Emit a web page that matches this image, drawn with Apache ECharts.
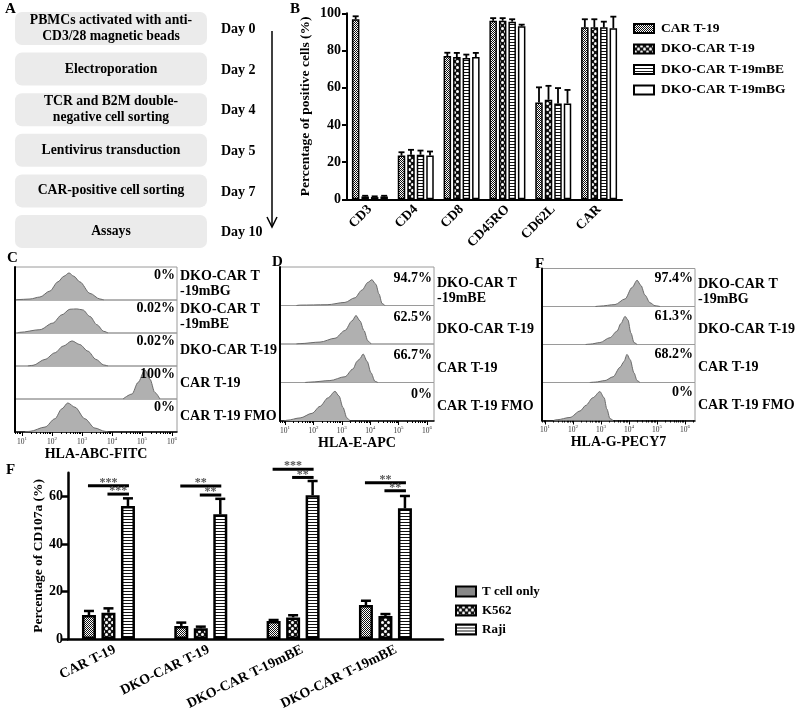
<!DOCTYPE html>
<html><head><meta charset="utf-8">
<script src="https://cdn.jsdelivr.net/npm/echarts@6/dist/echarts.min.js"></script>
<style>html,body{margin:0;padding:0;background:#fff}#c{width:800px;height:720px}</style>
</head><body><div id="c"></div>
<script>
// ---------- Panel A (workflow) ----------
const stepTexts = [['PBMCs activated with anti-','CD3/28 magnetic beads'],['Electroporation'],['TCR and B2M double-','negative cell sorting'],['Lentivirus transduction'],['CAR-positive cell sorting'],['Assays']];
const stepDays = ['Day 0','Day 2','Day 4','Day 5','Day 7','Day 10'];

// ---------- Panel B (phenotype bars) ----------
const markerCats = ['CD3','CD4','CD8','CD45RO','CD62L','CAR'];
const groupNames = ['CAR T-19','DKO-CAR T-19','DKO-CAR T-19mBE','DKO-CAR T-19mBG'];
const carT19     = [96.8, 23.5, 77.0, 96.0, 52.0, 92.5];
const carT19Err  = [1.6, 1.8, 1.8, 1.4, 8.2, 4.3];
const dkoT19     = [1.5, 24.0, 76.5, 96.0, 53.5, 92.5];
const dkoT19Err  = [0.4, 2.6, 2.2, 1.4, 7.5, 4.3];
const dkoMBE     = [1.2, 24.0, 76.0, 95.5, 51.5, 92.5];
const dkoMBEErr  = [0.4, 2.2, 1.8, 1.3, 8.3, 3.0];
const dkoMBG     = [1.5, 23.5, 76.5, 93.0, 51.5, 92.0];
const dkoMBGErr  = [0.4, 2.2, 2.2, 0.9, 7.3, 6.2];
const percentTicks = [0, 20, 40, 60, 80, 100];

// ---------- Histograms (x = log10 intensity, y = relative count) ----------
const logTicks = [1, 2, 3, 4, 5, 6];
const hlaAbcRows = ['DKO-CAR T\n-19mBG','DKO-CAR T\n-19mBE','DKO-CAR T-19','CAR T-19','CAR T-19 FMO'];
const hlaAbcPct  = ['0%','0.02%','0.02%','100%','0%'];
const hlaAbcMBG = [[0.8,0],[0.83,0.01],[1.27,0.03],[1.6,0.09],[1.93,0.27],[2.2,0.55],[2.4,0.72],[2.57,0.82],[2.73,0.72],[2.93,0.55],[3.27,0.2],[3.6,0.03],[3.73,0]];
const hlaAbcMBE = [[0.85,0],[0.93,0.02],[1.6,0.1],[2.03,0.3],[2.33,0.55],[2.6,0.72],[2.83,0.73],[3.03,0.7],[3.27,0.5],[3.5,0.25],[3.73,0.05],[3.87,0]];
const hlaAbcDko = [[1.2,0],[1.37,0.02],[1.77,0.2],[2.1,0.4],[2.37,0.6],[2.67,0.76],[2.93,0.65],[3.2,0.45],[3.47,0.2],[3.73,0.03],[3.87,0]];
const hlaAbcCar = [[4.37,0],[4.67,0.15],[4.87,0.5],[5.1,0.88],[5.27,0.6],[5.43,0.2],[5.6,0]];
const hlaAbcFmo = [[1.1,0],[1.27,0.02],[1.77,0.15],[2.1,0.4],[2.33,0.7],[2.53,0.88],[2.77,0.75],[3.1,0.4],[3.43,0.12],[3.77,0.02],[3.87,0]];

const hlaERows = ['DKO-CAR T\n-19mBE','DKO-CAR T-19','CAR T-19','CAR T-19 FMO'];
const hlaEPct  = ['94.7%','62.5%','66.7%','0%'];
const hlaEMBE = [[1.4,0],[1.53,0.01],[2.48,0.02],[3.11,0.08],[3.46,0.2],[3.71,0.4],[3.92,0.6],[4.06,0.67],[4.2,0.55],[4.31,0.3],[4.42,0.05],[4.52,0]];
const hlaEDko = [[1.4,0],[1.53,0.01],[2.23,0.05],[2.76,0.15],[3.11,0.35],[3.36,0.6],[3.5,0.74],[3.64,0.6],[3.78,0.35],[3.92,0.08],[4.03,0]];
const hlaECar = [[1.7,0],[1.88,0.01],[2.58,0.05],[3.11,0.15],[3.39,0.35],[3.54,0.55],[3.64,0.62],[3.75,0.74],[3.89,0.55],[4.03,0.25],[4.17,0.03],[4.27,0]];
const hlaEFmo = [[0.95,0],[1.07,0.02],[1.53,0.08],[1.95,0.2],[2.23,0.38],[2.51,0.6],[2.76,0.77],[2.9,0.65],[3.04,0.35],[3.18,0.08],[3.29,0]];

const hlaGRows = ['DKO-CAR T\n-19mBG','DKO-CAR T-19','CAR T-19','CAR T-19 FMO'];
const hlaGPct  = ['97.4%','61.3%','68.2%','0%'];
const hlaGMBG = [[2.8,0],[2.96,0.01],[3.5,0.05],[3.86,0.2],[4.11,0.5],[4.29,0.69],[4.43,0.55],[4.57,0.3],[4.75,0.1],[4.93,0.02],[5.11,0]];
const hlaGDko = [[2.45,0],[2.61,0.01],[2.96,0.05],[3.32,0.18],[3.57,0.35],[3.71,0.55],[3.86,0.74],[3.96,0.65],[4.07,0.3],[4.18,0.05],[4.29,0]];
const hlaGCar = [[2.6,0],[2.79,0.01],[3.14,0.05],[3.43,0.15],[3.68,0.4],[3.82,0.55],[3.93,0.74],[4.04,0.6],[4.18,0.25],[4.29,0.05],[4.39,0]];
const hlaGFmo = [[1.3,0],[1.43,0.02],[1.89,0.08],[2.25,0.25],[2.46,0.4],[2.71,0.6],[2.96,0.76],[3.11,0.6],[3.21,0.3],[3.32,0.05],[3.43,0]];

// ---------- Panel F (CD107a) ----------
const cd107Cats = ['CAR T-19','DKO-CAR T-19','DKO-CAR T-19mBE','DKO-CAR T-19mBE'];
const targetNames = ['T cell only','K562','Raji'];
const tCellOnly    = [10.1, 5.5, 7.6, 14.3];
const tCellOnlyErr = [1.7, 1.4, 0.4, 1.8];
const k562         = [11.1, 4.5, 9.1, 9.7];
const k562Err      = [1.8, 0.7, 0.9, 0.8];
const raji         = [56.0, 52.5, 60.5, 55.0];
const rajiErr      = [3.2, 6.5, 6.0, 5.2];
const cd107Ticks   = [0, 20, 40, 60];
// [category, y value, from bar, to bar]
const sigBrackets = [[0,64.5,0,2],[0,61.0,1,2],[1,64.4,0,2],[1,60.6,1,2],[2,71.5,0,2],[2,68.0,1,2],[3,65.8,0,2],[3,62.4,1,2]];
const sigLabels   = ['***','***','**','**','***','**','**','**'];

// ================= build =================
const FONT = '"Liberation Serif", "Times New Roman", serif';
const grids = [], xAxes = [], yAxes = [], series = [], graphics = [];

function txt(x, y, text, size, align, valign, extra) {
  graphics.push({type:'text', x, y, silent:true, z:50,
    style: Object.assign({text, fontSize:size, fontFamily:FONT, fontWeight:'bold', fill:'#000',
      textAlign:align || 'left', textVerticalAlign:valign || 'middle', lineHeight:size + 1}, extra || {})});
}

function makePattern(kind) {
  const c = document.createElement('canvas');
  let ctx;
  if (kind === 'fine') {
    c.width = 2; c.height = 2; ctx = c.getContext('2d');
    ctx.fillStyle = '#fff'; ctx.fillRect(0,0,2,2);
    ctx.fillStyle = '#111'; ctx.fillRect(0,0,1,1); ctx.fillRect(1,1,1,1);
  } else if (kind === 'coarse') {
    c.width = 6; c.height = 6; ctx = c.getContext('2d');
    ctx.fillStyle = '#111'; ctx.fillRect(0,0,6,6);
    ctx.fillStyle = '#fff';
    ctx.beginPath(); ctx.arc(1.5,1.5,1.5,0,Math.PI*2); ctx.fill();
    ctx.beginPath(); ctx.arc(4.5,4.5,1.5,0,Math.PI*2); ctx.fill();
  } else if (kind === 'stripes') {
    c.width = 2; c.height = 3; ctx = c.getContext('2d');
    ctx.fillStyle = '#fff'; ctx.fillRect(0,0,2,3);
    ctx.fillStyle = '#111'; ctx.fillRect(0,0,2,1);
  } else {
    c.width = 2; c.height = 2; ctx = c.getContext('2d');
    ctx.fillStyle = '#fff'; ctx.fillRect(0,0,2,2);
  }
  return {image: c, repeat: 'repeat'};
}
const patterns = [makePattern('fine'), makePattern('coarse'), makePattern('stripes'), makePattern('white')];

// ---- Panel A graphics
txt(5, 9, 'A', 15);
stepTexts.forEach((lines, i) => {
  const top = 12 + i * 40.6, h = 33;
  graphics.push({type:'rect', silent:true, z:1, shape:{x:15, y:top, width:192, height:h, r:7}, style:{fill:'#ebebeb'}});
  txt(111, top + h/2, lines.join('\n'), 13.7, 'center', 'middle', {lineHeight:16});
  txt(221, top + h/2 + 1, stepDays[i], 14, 'left', 'middle');
});
graphics.push({type:'line', silent:true, shape:{x1:272, y1:31, x2:272, y2:226}, style:{stroke:'#000', lineWidth:1.5}});
graphics.push({type:'polyline', silent:true, shape:{points:[[267,217],[272,227],[277,217]]}, style:{stroke:'#000', lineWidth:1.5, fill:null}});

// ---- Panel B
const bGrid = grids.length;
grids.push({left:347, top:13.3, width:275, height:186});
const bX = xAxes.length;
xAxes.push({type:'category', gridIndex:bGrid, data:markerCats,
  axisLine:{lineStyle:{color:'#000', width:2}},
  axisTick:{alignWithLabel:true, length:5, lineStyle:{color:'#000', width:2}},
  axisLabel:{rotate:45, fontSize:13.5, fontWeight:'bold', fontFamily:FONT, color:'#000', margin:8}});
const bY = yAxes.length;
yAxes.push({type:'value', gridIndex:bGrid, min:0, max:100, interval:20,
  axisLine:{show:true, lineStyle:{color:'#000', width:2}},
  axisTick:{show:true, length:5, lineStyle:{color:'#000', width:2}},
  axisLabel:{fontSize:14, fontWeight:'bold', fontFamily:FONT, color:'#000', margin:6, customValues:percentTicks},
  splitLine:{show:false},
  name:'Percentage of positive cells (%)', nameLocation:'middle', nameGap:34,
  nameTextStyle:{fontSize:13.5, fontWeight:'bold', fontFamily:FONT, color:'#000'}});

function errRender(idx, n, bw, gap, capW, lw) {
  return function (params, api) {
    const c = api.value(0), v = api.value(1), e = api.value(2);
    const b = api.coord([c, v]), t = api.coord([c, v + e]);
    const x = b[0] + (idx - (n - 1) / 2) * (bw + gap);
    return {type:'group', children:[
      {type:'line', shape:{x1:x, y1:b[1], x2:x, y2:t[1]}, style:{stroke:'#000', lineWidth:lw}},
      {type:'line', shape:{x1:x - capW/2, y1:t[1], x2:x + capW/2, y2:t[1]}, style:{stroke:'#000', lineWidth:lw}}
    ]};
  };
}

const bVals = [carT19, dkoT19, dkoMBE, dkoMBG];
const bErrs = [carT19Err, dkoT19Err, dkoMBEErr, dkoMBGErr];
const bBW = 7.5, bGap = 2;
groupNames.forEach((name, i) => {
  series.push({type:'bar', name, xAxisIndex:bX, yAxisIndex:bY, data:bVals[i],
    barWidth:bBW, barGap:(bGap / bBW * 100) + '%', silent:true,
    itemStyle:{color:patterns[i], borderColor:'#000', borderWidth:1.5}});
});
groupNames.forEach((name, i) => {
  series.push({type:'custom', name:'err ' + name, xAxisIndex:bX, yAxisIndex:bY, silent:true, z:5,
    renderItem: errRender(i, 4, bBW, bGap, 6, 1.8),
    data: bVals[i].map((v, k) => [k, v, bErrs[i][k]])});
});

// ---- Histogram panels
const histPanels = [
  {left:15, top:267, width:162, rowH:33, min:0.77, max:6.17, title:'HLA-ABC-FITC', nameGap:15,
   rows:hlaAbcRows, pcts:hlaAbcPct, data:[hlaAbcMBG, hlaAbcMBE, hlaAbcDko, hlaAbcCar, hlaAbcFmo], pctDy:8, nameDy:17},
  {left:280, top:267, width:154, rowH:38.5, min:0.82, max:6.25, title:'HLA-E-APC', nameGap:13,
   rows:hlaERows, pcts:hlaEPct, data:[hlaEMBE, hlaEDko, hlaECar, hlaEFmo], pctDy:11.5, nameDy:24},
  {left:542, top:268.5, width:153, rowH:38, min:0.89, max:6.36, title:'HLA-G-PECY7', nameGap:14,
   rows:hlaGRows, pcts:hlaGPct, data:[hlaGMBG, hlaGDko, hlaGCar, hlaGFmo], pctDy:10, nameDy:23}
];
const tickLabelRich = {
  b:{fontSize:7.5, fontFamily:FONT, color:'#333', verticalAlign:'bottom', lineHeight:10},
  s:{fontSize:5, fontFamily:FONT, color:'#333', verticalAlign:'top', lineHeight:10}
};
histPanels.forEach(p => {
  const n = p.rows.length;
  const minor = [];
  for (let d = 0; d <= 6; d++) for (let k = 2; k <= 9; k++) {
    const v = d + Math.log10(k);
    if (v > p.min && v < p.max) minor.push(v);
  }
  p.rows.forEach((rowName, i) => {
    const top = p.top + i * p.rowH;
    const g = grids.length;
    grids.push({left:p.left, top:top, width:p.width, height:p.rowH, show:true, borderColor:'#9a9a9a', borderWidth:1, backgroundColor:'transparent'});
    const isBottom = i === n - 1;
    const xi = xAxes.length;
    xAxes.push({type:'value', gridIndex:g, min:p.min, max:p.max,
      axisLine:{show:isBottom, onZero:false, lineStyle:{color:'#000', width:1.5}},
      axisTick:{show:isBottom, customValues:logTicks, length:4, lineStyle:{color:'#000', width:1}},
      axisLabel:{show:isBottom, customValues:logTicks, margin:4, formatter: v => '{b|10}{s|' + v + '}', rich:tickLabelRich},
      splitLine:{show:false},
      name:isBottom ? p.title : '', nameLocation:'middle', nameGap:p.nameGap,
      nameTextStyle:{fontSize:14, fontWeight:'bold', fontFamily:FONT, color:'#000'}});
    if (isBottom) {
      xAxes.push({type:'value', gridIndex:g, min:p.min, max:p.max, position:'bottom',
        axisLine:{show:false}, axisLabel:{show:false}, splitLine:{show:false},
        axisTick:{show:true, customValues:minor, length:2, lineStyle:{color:'#000', width:1}}});
    }
    const yi = yAxes.length;
    yAxes.push({type:'value', gridIndex:g, min:0, max:1,
      axisLine:{show:true, onZero:false, lineStyle:{color:'#000', width:2}},
      axisTick:{show:false}, axisLabel:{show:false}, splitLine:{show:false}});
    series.push({type:'line', xAxisIndex:xi, yAxisIndex:yi, data:p.data[i], silent:true,
      smooth:0.3, smoothMonotone:'x', symbol:'none', clip:true,
      lineStyle:{color:'#6a6a6a', width:1}, areaStyle:{color:'#b0b0b0', opacity:1}});
    txt(p.left + p.width - 2, top + p.pctDy, p.pcts[i], 14, 'right', 'middle');
    txt(p.left + p.width + 3, top + p.nameDy, rowName, 14, 'left', 'middle', {lineHeight:15});
  });
});
txt(7, 258, 'C', 15);
txt(272, 262, 'D', 15);
txt(535, 264, 'F', 15);
txt(290, 9, 'B', 15);

// ---- Panel F (CD107a)
const fVisGrid = grids.length;
grids.push({left:68, top:472.7, width:375, height:166.3});
const fVisX = xAxes.length;
xAxes.push({type:'category', gridIndex:fVisGrid, data:cd107Cats,
  axisLine:{lineStyle:{color:'#000', width:2.5}},
  axisTick:{alignWithLabel:true, length:6, lineStyle:{color:'#000', width:2.5}},
  axisLabel:{rotate:26, fontSize:14, fontWeight:'bold', fontFamily:FONT, color:'#000', margin:10}});
const fVisY = yAxes.length;
yAxes.push({type:'value', gridIndex:fVisGrid, min:0, max:70,
  axisLine:{show:true, lineStyle:{color:'#000', width:2.5}},
  axisTick:{show:true, customValues:cd107Ticks, length:6, lineStyle:{color:'#000', width:2.5}},
  axisLabel:{customValues:cd107Ticks, fontSize:14, fontWeight:'bold', fontFamily:FONT, color:'#000', margin:5},
  splitLine:{show:false},
  name:'Percentage of CD107a (%)', nameLocation:'middle', nameGap:22,
  nameTextStyle:{fontSize:13.5, fontWeight:'bold', fontFamily:FONT, color:'#000'}});

const fBarGrid = grids.length;
grids.push({left:62.3, top:472.7, width:369.3, height:166.3});
const fX = xAxes.length;
xAxes.push({type:'category', gridIndex:fBarGrid, data:cd107Cats, show:false});
const fY = yAxes.length;
yAxes.push({type:'value', gridIndex:fBarGrid, min:0, max:70, show:false, splitLine:{show:false}});

const fVals = [tCellOnly, k562, raji];
const fErrs = [tCellOnlyErr, k562Err, rajiErr];
const fBW = 14, fGap = 5.5;
targetNames.forEach((name, i) => {
  series.push({type:'bar', name, xAxisIndex:fX, yAxisIndex:fY, data:fVals[i], silent:true,
    barWidth:fBW, barGap:(fGap / fBW * 100) + '%',
    itemStyle:{color:patterns[i], borderColor:'#000', borderWidth:2.5}});
});
targetNames.forEach((name, i) => {
  series.push({type:'custom', name:'err ' + name, xAxisIndex:fX, yAxisIndex:fY, silent:true, z:5,
    renderItem: errRender(i, 3, fBW, fGap, 10, 2.5),
    data: fVals[i].map((v, k) => [k, v, fErrs[i][k]])});
});
series.push({type:'custom', name:'significance', xAxisIndex:fX, yAxisIndex:fY, silent:true, z:6, clip:false,
  renderItem: function (params, api) {
    const c = api.value(0), y = api.value(1), a = api.value(2), b = api.value(3);
    const p = api.coord([c, y]);
    const x1 = p[0] + (a - 1) * (fBW + fGap), x2 = p[0] + (b - 1) * (fBW + fGap);
    return {type:'group', children:[
      {type:'line', shape:{x1:x1 - 1, y1:p[1], x2:x2 + 1, y2:p[1]}, style:{stroke:'#000', lineWidth:3}},
      {type:'text', x:(x1 + x2) / 2, y:p[1] - 3,
       style:{text:sigLabels[params.dataIndex], fontSize:12, fontFamily:FONT, fontWeight:'bold', fill:'#555', textAlign:'center', textVerticalAlign:'middle'}}
    ]};
  },
  data: sigBrackets});
txt(6, 470, 'F', 15);

const option = {
  animation:false,
  backgroundColor:'#fff',
  textStyle:{fontFamily:FONT},
  grid:grids, xAxis:xAxes, yAxis:yAxes, series,
  legend:[
    {data:groupNames, orient:'vertical', left:628, top:16.5, itemWidth:20, itemHeight:9, itemGap:6.5, icon:'rect',
     selectedMode:false, textStyle:{fontSize:13.5, fontWeight:'bold', fontFamily:FONT, color:'#000', padding:[0,0,0,2]}},
    {data:targetNames, orient:'vertical', left:450, top:580, itemWidth:20, itemHeight:10, itemGap:6, icon:'rect',
     selectedMode:false, textStyle:{fontSize:13, fontWeight:'bold', fontFamily:FONT, color:'#000', padding:[0,0,0,1]}}
  ],
  graphic:{elements:graphics}
};
const chart = echarts.init(document.getElementById('c'));
chart.setOption(option);
</script>
</body></html>
